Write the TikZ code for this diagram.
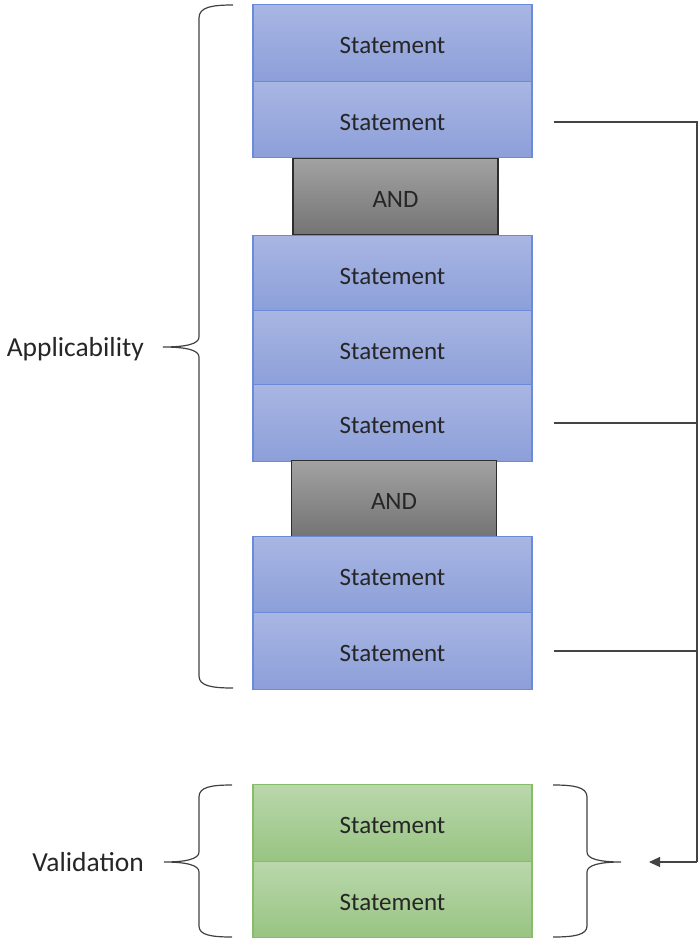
\documentclass[tikz,border=0pt]{standalone}
\usepackage{fontspec}
\setmainfont{Carlito}
\usetikzlibrary{arrows.meta,calc}

\definecolor{bluetop}{HTML}{A9B6E3}
\definecolor{bluebot}{HTML}{8C9FD9}
\definecolor{blueline}{HTML}{6A8BDA}
\definecolor{greentop}{HTML}{BAD7AC}
\definecolor{greenbot}{HTML}{98C482}
\definecolor{greenline}{HTML}{87BD69}
\definecolor{graytop}{HTML}{A2A2A2}
\definecolor{graybot}{HTML}{747474}
\definecolor{grayline}{HTML}{2E2E2E}
\definecolor{wire}{HTML}{444444}

\tikzset{
  stmt/.style={rectangle, minimum width=279pt, minimum height=76.5pt,
    inner sep=0pt, font=\fontsize{25}{30}\selectfont, text=black!85,
    text depth=0pt, text height=21pt,
    top color=bluetop, bottom color=bluebot, draw=blueline, line width=1.2pt},
  valid/.style={stmt, top color=greentop, bottom color=greenbot, draw=greenline},
  andbox/.style={rectangle, minimum width=205pt, minimum height=76.5pt,
    inner sep=0pt, font=\fontsize{25}{30}\selectfont, text=black!85,
    text depth=0pt, text height=21pt,
    top color=graytop, bottom color=graybot, draw=grayline, line width=1.2pt},
  lbl/.style={anchor=east, inner sep=0pt, font=\fontsize{27.5}{32}\selectfont, text=black!85},
  bracepath/.style={draw=black!75, line width=1.2pt},
  wireline/.style={draw=wire, line width=1.1pt},
}

\begin{document}
\begin{tikzpicture}[x=1pt,y=-1pt]
\useasboundingbox (0,0) rectangle (700,943);

% applicability stack
\node[stmt] (s1) at (392.5,43) {Statement};
\node[stmt] (s2) at (392.5,119.5) {Statement};
\node[andbox] (a1) at (395.5,196.5) {AND};
\node[stmt] (s3) at (392.5,273.5) {Statement};
\node[stmt] (s4) at (392.5,348.5) {Statement};
\node[stmt] (s5) at (392.5,423) {Statement};
\node[andbox] (a2) at (394,498.5) {AND};
\node[stmt] (s6) at (392.5,574.5) {Statement};
\node[stmt] (s7) at (392.5,651) {Statement};

% validation stack
\node[valid] (g1) at (392.5,823) {Statement};
\node[valid] (g2) at (392.5,899.5) {Statement};

% side labels
\node[lbl] (app) at (144,349) {Applicability};
\node[lbl] (val) at (144,862) {Validation};

% braces
\path[bracepath] (233,5) .. controls (212,5) and (199,7) .. (199,18)
  -- (199,337) .. controls (199,344) and (186,347) .. (163,347)
  .. controls (186,347) and (199,350) .. (199,357)
  -- (199,676) .. controls (199,686) and (212,688) .. (233,688);
\path[bracepath] (232,785) .. controls (211,785) and (199,787) .. (199,797)
  -- (199,852) .. controls (199,859) and (186,862) .. (164,862)
  .. controls (186,862) and (199,865) .. (199,872)
  -- (199,926) .. controls (199,935) and (211,937) .. (232,937);
\path[bracepath] (553,785) .. controls (574,785) and (587,787) .. (587,797)
  -- (587,852) .. controls (587,859) and (600,862) .. (621,862)
  .. controls (600,862) and (587,865) .. (587,872)
  -- (587,926) .. controls (587,935) and (574,937) .. (553,937);

% feed lines into the validation group
\coordinate (rail) at (697,0);
\coordinate (vtip) at (649,862);
\draw[wireline] ([xshift=21pt]s2.east |- 0,122) -- (rail |- 0,122) -- (rail |- vtip);
\draw[wireline] ([xshift=21pt]s5.east |- 0,423) -- (rail |- 0,423);
\draw[wireline] ([xshift=21pt]s7.east |- 0,651) -- (rail |- 0,651);
\draw[wireline, -{Triangle[length=11pt,width=10pt]}] (rail |- vtip) -- (vtip);
\end{tikzpicture}
\end{document}
